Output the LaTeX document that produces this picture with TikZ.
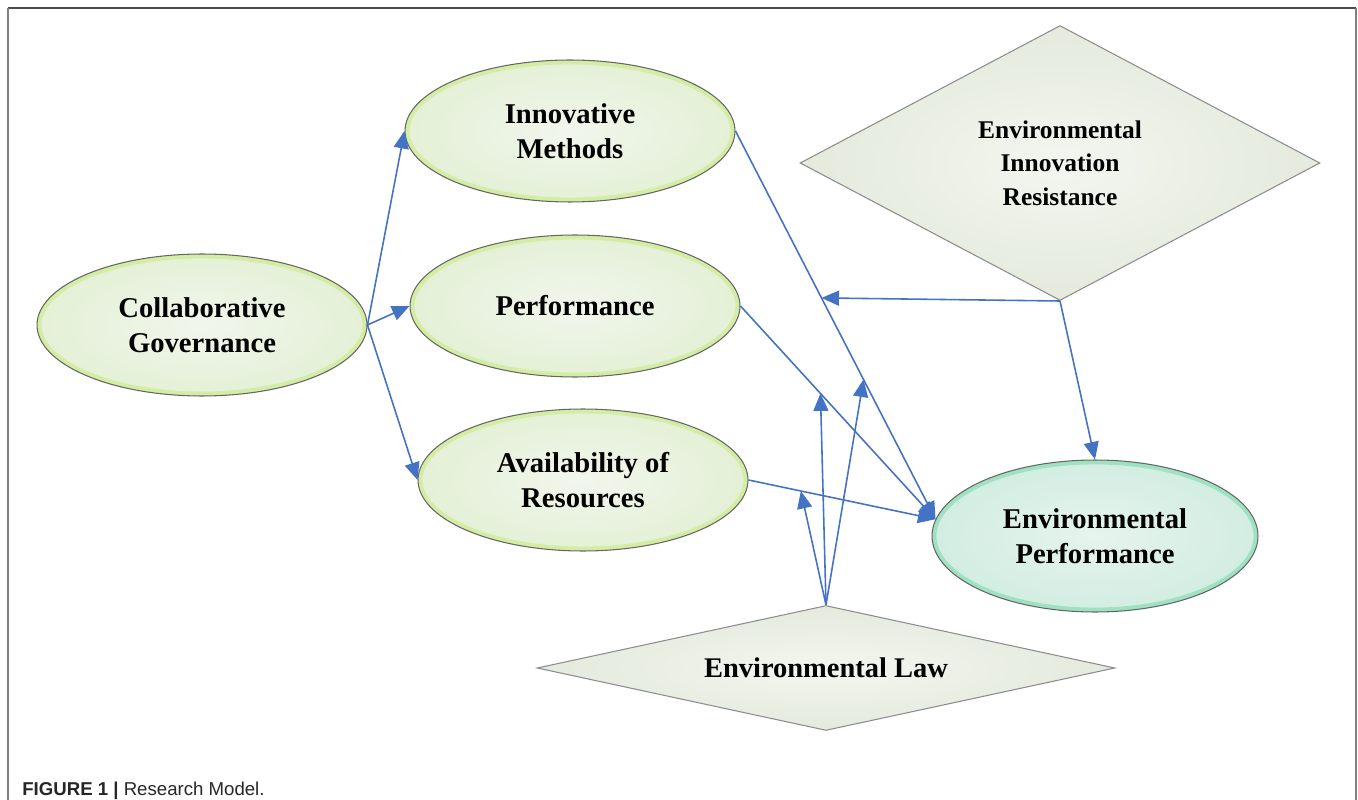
\documentclass[tikz,border=0pt]{standalone}
\usepackage{fontspec}
\setmainfont{Liberation Serif}
\newfontfamily\capfont{Liberation Sans}
\usetikzlibrary{shapes.geometric,arrows.meta,calc}

\definecolor{blobin}{HTML}{F1F6EC}
\definecolor{blobmid}{HTML}{E4F0D6}
\definecolor{blobout}{HTML}{D3EDA4}
\definecolor{epin}{HTML}{E6F4EE}
\definecolor{epmid}{HTML}{D2EDE1}
\definecolor{epout}{HTML}{9FE2C2}
\definecolor{lawin}{HTML}{F3F6F0}
\definecolor{lawout}{HTML}{E4EADC}
\definecolor{arrowblue}{HTML}{4472C4}

\begin{document}
\begin{tikzpicture}[x=0.02cm, y=-0.02cm,
	rim/.style={path picture={
		\draw[#1, line width=5pt]
			let \p1=($(path picture bounding box.north east)-(path picture bounding box.center)$)
			in (path picture bounding box.center) ellipse [x radius=\x1, y radius=\y1];}},
	blob/.style={ellipse, draw=black!60, line width=0.6pt, inner sep=0pt,
		minimum width=6.6cm, minimum height=2.84cm, align=center,
		inner color=blobin, outer color=blobmid, rim=blobout,
		font=\fontsize{16.3}{19.8}\selectfont\bfseries},
	lawbox/.style={diamond, draw=black!45, line width=0.6pt, inner sep=0pt,
		align=center, inner color=lawin, outer color=lawout,
		font=\fontsize{14.5}{19}\selectfont\bfseries},
	link/.style={draw=arrowblue, line width=0.9pt,
		-{Triangle[length=0.35cm,width=0.3cm]}}]
\useasboundingbox (0,0) rectangle (1358,800);

% frame
	\draw[black!70, line width=1pt] (8,8) -- (1356,8);
	\draw[black!50, line width=1pt] (8,8) -- (8,800);
	\draw[black!50, line width=1pt] (1356,8) -- (1356,800);

% constructs
	\node[blob] (CG) at (202,325) {Collaborative\\Governance};
	\node[blob] (IM) at (570,131) {Innovative\\Methods};
	\node[blob] (PF) at (575,306) {Performance};
	\node[blob] (AR) at (583,480) {Availability of\\Resources};
	\node[blob, minimum width=6.52cm, minimum height=3.04cm,
		inner color=epin, outer color=epmid, rim=epout] (EP) at (1095,536)
		{Environmental\\Performance};

% moderators
	\node[lawbox, shape aspect=1.9, minimum width=10.4cm, minimum height=5.5cm]
		(EIR) at (1060,163) {Environmental\\Innovation\\Resistance};
	\node[lawbox, shape aspect=4.6, minimum width=11.56cm, minimum height=2.5cm,
		font=\fontsize{16.2}{19}\selectfont\bfseries]
		(EL) at (826,668) {Environmental Law};

% hit points
	\coordinate (EPin) at (EP.174);
	\coordinate (hitA) at ($(IM.east)!0.43!(EPin)$);
	\coordinate (hitB) at ($(IM.east)!0.64!(EPin)$);
	\coordinate (hitC) at ($(PF.east)!0.41!(EPin)$);
	\coordinate (hitD) at ($(AR.east)!0.28!(EPin)$);

% direct paths
	\draw[link] (CG.east) -- (IM.west);
	\draw[link] (CG.east) -- (PF.west);
	\draw[link] (CG.east) -- (AR.west);
	\draw[link] (IM.east) -- (EPin);
	\draw[link] (PF.east) -- (EPin);
	\draw[link] (AR.east) -- (EPin);

% moderating paths
	\draw[link] (EIR.south) -- (hitA);
	\draw[link] (EIR.south) -- (EP.north);
	\draw[link] (EL.north) -- (hitB);
	\draw[link] (EL.north) -- (hitC);
	\draw[link] (EL.north) -- (hitD);

% caption
	\node[anchor=base west, inner sep=0pt, font=\capfont\fontsize{10.6}{12}\selectfont,
		text=black!85] (cap) at (22,795) {\textbf{FIGURE 1 |} Research Model.};

\end{tikzpicture}
\end{document}
